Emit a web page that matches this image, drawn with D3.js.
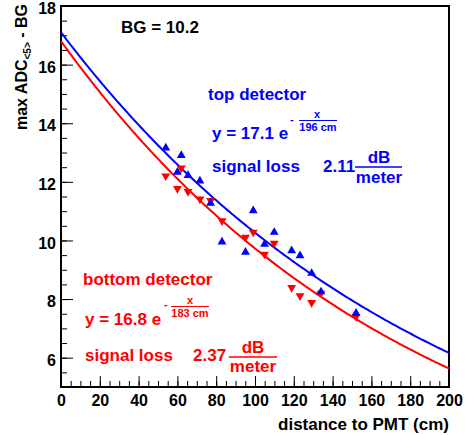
<!DOCTYPE html>
<html><head><meta charset="utf-8">
<script src="https://cdn.jsdelivr.net/npm/d3@7"></script>
<style>
html,body{margin:0;padding:0;background:#fff;}
svg{display:block;font-family:"Liberation Sans",Arial,Helvetica,sans-serif;font-weight:bold;}
</style></head>
<body>
<svg id="c" width="470" height="435"></svg>
<script>
// distance to PMT (cm)
const distance = [54, 60, 62, 65.5, 71.6, 77.1, 83, 95.1, 99.1, 104.9, 109.9, 118.9, 123.2, 129.2, 134, 152.1];
// max ADC - BG, top detector
const topVals = [13.16, 12.33, 12.90, 12.22, 12.03, 11.27, 9.95, 9.60, 11.02, 9.87, 10.28, 9.65, 9.48, 8.88, 8.25, 7.52];
// max ADC - BG, bottom detector
const bottomVals = [12.20, 11.77, 12.47, 11.67, 11.41, 11.36, 10.67, 10.11, 10.28, 9.53, 9.90, 8.39, 8.11, 7.88, 8.20, 7.40];
// fit parameters y = A exp(-x/L)
const topFit = {A: 17.1, L: 196};
const bottomFit = {A: 16.8, L: 183};
const xMajorTicks = [0,20,40,60,80,100,120,140,160,180,200];
const yMajorTicks = [6,8,10,12,14,16,18];

const svg = d3.select("#c");
const x = d3.scaleLinear().domain([0,200]).range([61,449]);
const y = d3.scaleLinear().domain([5,18]).range([387,6]);
const BLUE = "#0000ff", RED = "#ff0000";

// frame
svg.append("rect").attr("x",x(0)).attr("y",y(18)).attr("width",x(200)-x(0)).attr("height",y(5)-y(18))
  .attr("fill","none").attr("stroke","#000").attr("stroke-width",2);

// minor ticks
const xMinor = d3.range(0,201,5);
const yMinor = d3.range(5,18.01,0.5);
svg.append("g").attr("transform",`translate(0,${y(5)})`)
  .call(d3.axisBottom(x).tickValues(xMinor).tickSize(-6).tickFormat(""))
  .call(g=>{g.select(".domain").remove();g.selectAll("line").attr("stroke-width",1);});
svg.append("g").attr("transform",`translate(${x(0)},0)`)
  .call(d3.axisLeft(y).tickValues(yMinor).tickSize(-6).tickFormat(""))
  .call(g=>{g.select(".domain").remove();g.selectAll("line").attr("stroke-width",1);});
// major ticks
svg.append("g").attr("transform",`translate(0,${y(5)})`)
  .call(d3.axisBottom(x).tickValues(xMajorTicks).tickSize(-11).tickPadding(8))
  .call(g=>{g.select(".domain").remove();g.selectAll("line").attr("stroke-width",1);
    g.selectAll("text").attr("font-size",16).attr("font-weight","bold").attr("fill","#000")
     .attr("font-family","Liberation Sans, Arial, sans-serif");});
svg.append("g").attr("transform",`translate(${x(0)},0)`)
  .call(d3.axisLeft(y).tickValues(yMajorTicks).tickSize(-12).tickPadding(5))
  .call(g=>{g.select(".domain").remove();g.selectAll("line").attr("stroke-width",1);
    g.selectAll("text").attr("font-size",16).attr("font-weight","bold").attr("fill","#000")
     .attr("dy","0.48em")
     .attr("font-family","Liberation Sans, Arial, sans-serif");});

// axis titles
svg.append("text").attr("x",449).attr("y",430).attr("text-anchor","end").attr("font-size",17).text("distance to PMT (cm)");
const yt = svg.append("text").attr("transform","translate(27,4) rotate(-90)").attr("text-anchor","end").attr("font-size",16);
yt.append("tspan").text("max ADC");
yt.append("tspan").attr("font-size",10).attr("dy",4).text("<5>");
yt.append("tspan").attr("dy",-4).text(" - BG");

// fit curves
const xs = d3.range(0,200.01,1);
const line = d3.line().x(d=>x(d[0])).y(d=>y(d[1]));
[[topFit,BLUE],[bottomFit,RED]].forEach(([f,c])=>{
  svg.append("path").attr("d",line(xs.map(v=>[v,f.A*Math.exp(-v/f.L)])))
    .attr("fill","none").attr("stroke",c).attr("stroke-width",2);
});

// markers
const tri = d3.symbol().type(d3.symbolTriangle).size(34);
svg.append("g").selectAll("path").data(distance.map((d,i)=>[d,bottomVals[i]])).join("path")
  .attr("d",tri).attr("fill",RED)
  .attr("transform",d=>`translate(${x(d[0])},${y(d[1])}) rotate(180)`);
svg.append("g").selectAll("path").data(distance.map((d,i)=>[d,topVals[i]])).join("path")
  .attr("d",tri).attr("fill",BLUE)
  .attr("transform",d=>`translate(${x(d[0])},${y(d[1])})`);

// annotations
function txt(xp,yp,s,c,fs,anchor){
  return svg.append("text").attr("x",xp).attr("y",yp).attr("fill",c).attr("font-size",fs||17)
    .attr("text-anchor",anchor||"start").text(s);
}
txt(121,33,"BG = 10.2","#000");

// top detector
txt(208,100,"top detector",BLUE);
txt(212,139,"y = 17.1 e",BLUE);
txt(290,123,"-",BLUE,11);
txt(317,118,"x",BLUE,11,"middle");
svg.append("line").attr("x1",299).attr("x2",337).attr("y1",120.5).attr("y2",120.5).attr("stroke",BLUE).attr("stroke-width",1);
txt(318,130.5,"196 cm",BLUE,11,"middle");
txt(212,172,"signal loss",BLUE);
txt(323,172,"2.11",BLUE);
txt(379,163,"dB",BLUE,17,"middle");
svg.append("line").attr("x1",355).attr("x2",402).attr("y1",167).attr("y2",167).attr("stroke",BLUE).attr("stroke-width",1.5);
txt(379,183,"meter",BLUE,17,"middle");

// bottom detector
txt(83,285,"bottom detector",RED);
txt(85,325,"y = 16.8 e",RED);
txt(164,308,"-",RED,11);
txt(190,304,"x",RED,11,"middle");
svg.append("line").attr("x1",171).attr("x2",209).attr("y1",306.5).attr("y2",306.5).attr("stroke",RED).attr("stroke-width",1);
txt(190,317,"183 cm",RED,11,"middle");
txt(85,361,"signal loss",RED);
txt(193,361,"2.37",RED);
txt(253,353,"dB",RED,17,"middle");
svg.append("line").attr("x1",229).attr("x2",277).attr("y1",357).attr("y2",357).attr("stroke",RED).attr("stroke-width",1.5);
txt(253,372,"meter",RED,17,"middle");
</script>
</body></html>
